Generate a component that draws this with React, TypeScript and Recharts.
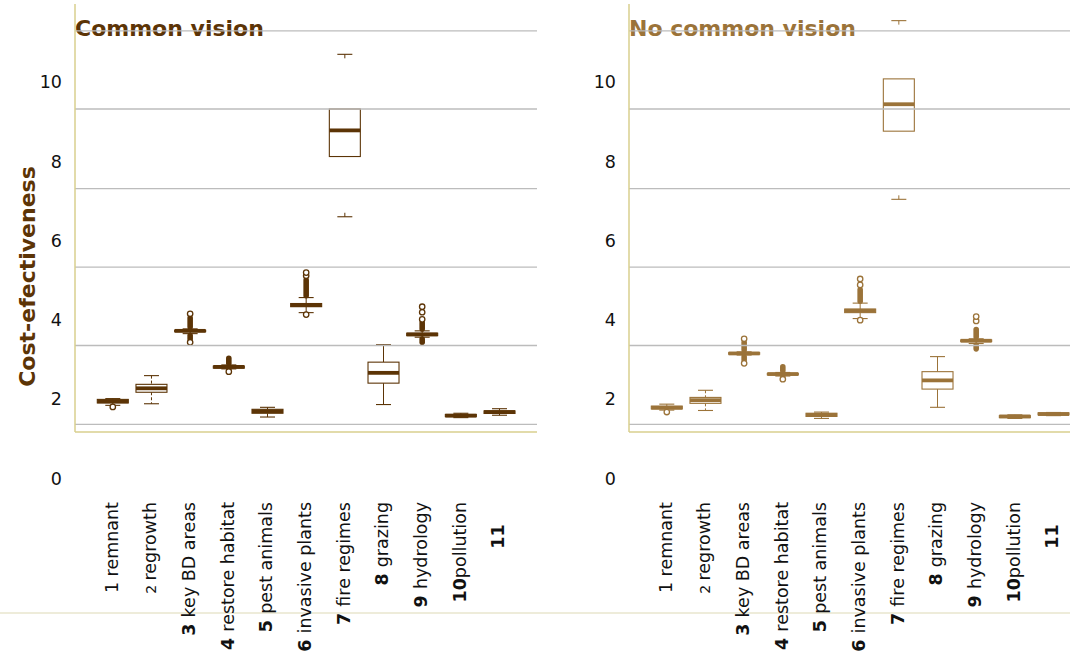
import { Bar, ComposedChart, ReferenceLine, XAxis, YAxis } from 'recharts';

const categoryNums = ['1', '2', '3', '4', '5', '6', '7', '8', '9', '10', '11'];
const categoryNames = [
  'remnant',
  'regrowth',
  'key BD areas',
  'restore habitat',
  'pest animals',
  'invasive plants',
  'fire regimes',
  'grazing',
  'hydrology',
  'pollution',
  '',
];
const valueTicks = [0, 2, 4, 6, 8, 10];
const gridValues = [1.36, 3.35, 5.33, 7.31, 9.32, 11.29];

// Common vision
const cvLow = [1.84, 1.88, 3.65, 2.76, 1.545, 4.18, 6.6, 1.86, 3.56, 1.53, 1.59];
const cvQ1 = [1.9, 2.17, 3.7, 2.78, 1.64, 4.33, 8.12, 2.4, 3.6, 1.555, 1.635];
const cvMedian = [1.94, 2.27, 3.72, 2.81, 1.69, 4.37, 8.78, 2.66, 3.63, 1.58, 1.67];
const cvQ3 = [1.99, 2.37, 3.735, 2.83, 1.74, 4.41, 9.32, 2.93, 3.66, 1.61, 1.7];
const cvHigh = [2.01, 2.59, 3.77, 2.86, 1.79, 4.56, 10.7, 3.37, 3.72, 1.64, 1.755];
const cvDense: number[][][] = [
  [], [], [[3.47, 3.65], [3.77, 4.09]], [[2.72, 2.76], [2.86, 3.07]], [],
  [[4.56, 5.05]], [], [], [[3.39, 3.56], [3.72, 3.97]], [], [],
];
const cvOutliers = [[1.8], [], [3.43, 4.15], [2.69], [], [4.13, 5.11, 5.19], [], [], [4.01, 4.19, 4.33], [], []];

// No common vision
const ncvLow = [1.72, 1.71, 3.11, 2.58, 1.51, 4.03, 7.04, 1.79, 3.4, 1.51, 1.58];
const ncvQ1 = [1.75, 1.89, 3.13, 2.61, 1.56, 4.18, 8.76, 2.25, 3.45, 1.53, 1.6];
const ncvMedian = [1.78, 1.97, 3.15, 2.63, 1.6, 4.23, 9.44, 2.47, 3.47, 1.56, 1.62];
const ncvQ3 = [1.82, 2.04, 3.17, 2.645, 1.64, 4.27, 10.08, 2.69, 3.49, 1.58, 1.65];
const ncvHigh = [1.87, 2.22, 3.19, 2.67, 1.67, 4.42, 11.55, 3.07, 3.52, 1.6, 1.66];
const ncvDense: number[][][] = [
  [], [], [[2.94, 3.11], [3.19, 3.47]], [[2.54, 2.58], [2.67, 2.86]], [],
  [[4.42, 4.8]], [], [], [[3.22, 3.4], [3.52, 3.8]], [], [],
];
const ncvOutliers = [[1.67], [], [2.9, 3.52], [2.5], [], [3.99, 4.88, 5.03], [], [], [3.97, 4.08], [], []];

const whiskerStyle: Record<string, 'solid' | 'dashed' | 'stub'> = { '2': 'dashed', '7': 'stub' };
const boldNums = ['3', '4', '5', '6', '7', '8', '9', '10', '11'];

const FONT = '"DejaVu Sans", Verdana, sans-serif';
const AXIS_COLOR = '#d9cf8e';
const GRID_COLOR = '#bcbcbc';

function buildRows(
  low: number[], q1: number[], med: number[], q3: number[], high: number[],
  dense: number[][][], outliers: number[][],
) {
  return categoryNums.map((num, i) => {
    const all = [low[i], high[i], ...outliers[i], ...dense[i].flat()];
    return {
      num,
      low: low[i],
      q1: q1[i],
      median: med[i],
      q3: q3[i],
      high: high[i],
      dense: dense[i],
      outliers: outliers[i],
      lo: Math.min(...all),
      hi: Math.max(...all),
    };
  });
}

const cvRows = buildRows(cvLow, cvQ1, cvMedian, cvQ3, cvHigh, cvDense, cvOutliers);
const ncvRows = buildRows(ncvLow, ncvQ1, ncvMedian, ncvQ3, ncvHigh, ncvDense, ncvOutliers);

function BoxShape(props: any) {
  const { x, y, width, height, payload, color } = props;
  if (!payload) return null;
  const top = Math.min(y, y + height);
  const span = Math.abs(height);
  const py = (v: number) => top + ((payload.hi - v) / (payload.hi - payload.lo)) * span;
  const cx = x + width / 2;
  const capHalf = 7.5;
  const style = whiskerStyle[payload.num] ?? 'solid';
  const yHigh = py(payload.high);
  const yLow = py(payload.low);
  const yQ3 = py(payload.q3);
  const yQ1 = py(payload.q1);
  const dash = style === 'dashed' ? '3 2' : undefined;

  return (
    <g>
      {style === 'stub' ? (
        <>
          <line x1={cx} x2={cx} y1={yHigh} y2={yHigh + 4} stroke={color} strokeWidth={1} />
          <line x1={cx} x2={cx} y1={yLow - 4} y2={yLow} stroke={color} strokeWidth={1} />
        </>
      ) : (
        <>
          <line x1={cx} x2={cx} y1={yHigh} y2={yQ3} stroke={color} strokeWidth={1} strokeDasharray={dash} />
          <line x1={cx} x2={cx} y1={yQ1} y2={yLow} stroke={color} strokeWidth={1} strokeDasharray={dash} />
        </>
      )}
      <line x1={cx - capHalf} x2={cx + capHalf} y1={yHigh} y2={yHigh} stroke={color} strokeWidth={1.1} />
      <line x1={cx - capHalf} x2={cx + capHalf} y1={yLow} y2={yLow} stroke={color} strokeWidth={1.1} />
      <rect x={x} y={yQ3} width={width} height={Math.max(yQ1 - yQ3, 0.5)} fill="#fff" stroke={color} strokeWidth={1.1} />
      <line x1={x} x2={x + width} y1={py(payload.median)} y2={py(payload.median)} stroke={color} strokeWidth={3.8} />
      {payload.dense.map((r: number[], k: number) => (
        <rect
          key={`d${k}`}
          x={cx - 2.8}
          y={py(r[1]) - 1}
          width={5.6}
          height={py(r[0]) - py(r[1]) + 2}
          rx={2.8}
          fill={color}
        />
      ))}
      {payload.outliers.map((v: number, k: number) => (
        <circle key={`o${k}`} cx={cx} cy={py(v)} r={2.7} fill="#fff" stroke={color} strokeWidth={1.3} />
      ))}
    </g>
  );
}

function CategoryTick(props: any) {
  const { x, payload } = props;
  const i = categoryNums.indexOf(String(payload.value));
  const num = categoryNums[i];
  const name = categoryNames[i];
  const bold = boldNums.includes(num);
  const sep = num === '10' ? '' : ' ';
  return (
    <text
      transform={`translate(${x + 5},502) rotate(-90)`}
      textAnchor="end"
      fontFamily={FONT}
      fontSize={17.5}
      fill="#111"
    >
      <tspan fontWeight={bold ? 'bold' : 'normal'} fontSize={num === '2' ? 14 : 17.5}>
        {name ? num + sep : num}
      </tspan>
      <tspan>{name ? name : '\u00a0\u00a0\u00a0\u00a0'}</tspan>
    </text>
  );
}

function ValueTick(props: any) {
  const { y, payload } = props;
  return (
    <text x={62} y={y} dy="0.36em" textAnchor="end" fontFamily={FONT} fontSize={17.5} fill="#111">
      {payload.value}
    </text>
  );
}

function Panel({ rows, color }: { rows: any[]; color: string }) {
  return (
    <ComposedChart width={545} height={654} data={rows} margin={{ top: 4, right: 8, left: 35, bottom: 42 }}>
      <XAxis
        dataKey="num"
        type="category"
        interval={0}
        padding={{ left: 18.3, right: 18.3 }}
        height={180}
        tickLine={false}
        axisLine={{ stroke: AXIS_COLOR, strokeWidth: 1.5 }}
        tick={<CategoryTick />}
      />
      <YAxis
        type="number"
        width={40}
        domain={[1.167, 11.97]}
        allowDataOverflow
        ticks={valueTicks}
        interval={0}
        tickLine={false}
        axisLine={{ stroke: AXIS_COLOR, strokeWidth: 1.5 }}
        tick={<ValueTick />}
      />
      {gridValues.map((v) => (
        <ReferenceLine key={v} y={v} stroke={GRID_COLOR} strokeWidth={1.3} />
      ))}
      <Bar
        dataKey={(d: any) => [d.lo, d.hi]}
        barSize={31}
        isAnimationActive={false}
        shape={(p: any) => <BoxShape {...p} color={color} />}
      />
    </ComposedChart>
  );
}

export default function App() {
  return (
    <div
      style={{
        position: 'absolute',
        left: 0,
        top: 0,
        width: 1070,
        height: 654,
        overflow: 'hidden',
        background: '#fff',
      }}
    >
      <svg width={1070} height={654} style={{ position: 'absolute', left: 0, top: 0 }}>
        <text x={75} y={36} fontFamily={FONT} fontSize={22} fontWeight="bold" fill="#5c3406">
          Common vision
        </text>
        <text x={629} y={36} fontFamily={FONT} fontSize={22} fontWeight="bold" fill="#9b7339">
          No common vision
        </text>
        <text
          transform="translate(35,276.5) rotate(-90)"
          textAnchor="middle"
          fontFamily={FONT}
          fontSize={22}
          fontWeight="bold"
          fill="#5c3406"
        >
          Cost-efectiveness
        </text>
        <line x1={0} x2={1070} y1={613} y2={613} stroke="#eeecda" strokeWidth={2} />
      </svg>
      <div style={{ position: 'absolute', left: 0, top: 0 }}>
        <Panel rows={cvRows} color="#5c3406" />
      </div>
      <div style={{ position: 'absolute', left: 554, top: 0 }}>
        <Panel rows={ncvRows} color="#9b7339" />
      </div>
    </div>
  );
}
